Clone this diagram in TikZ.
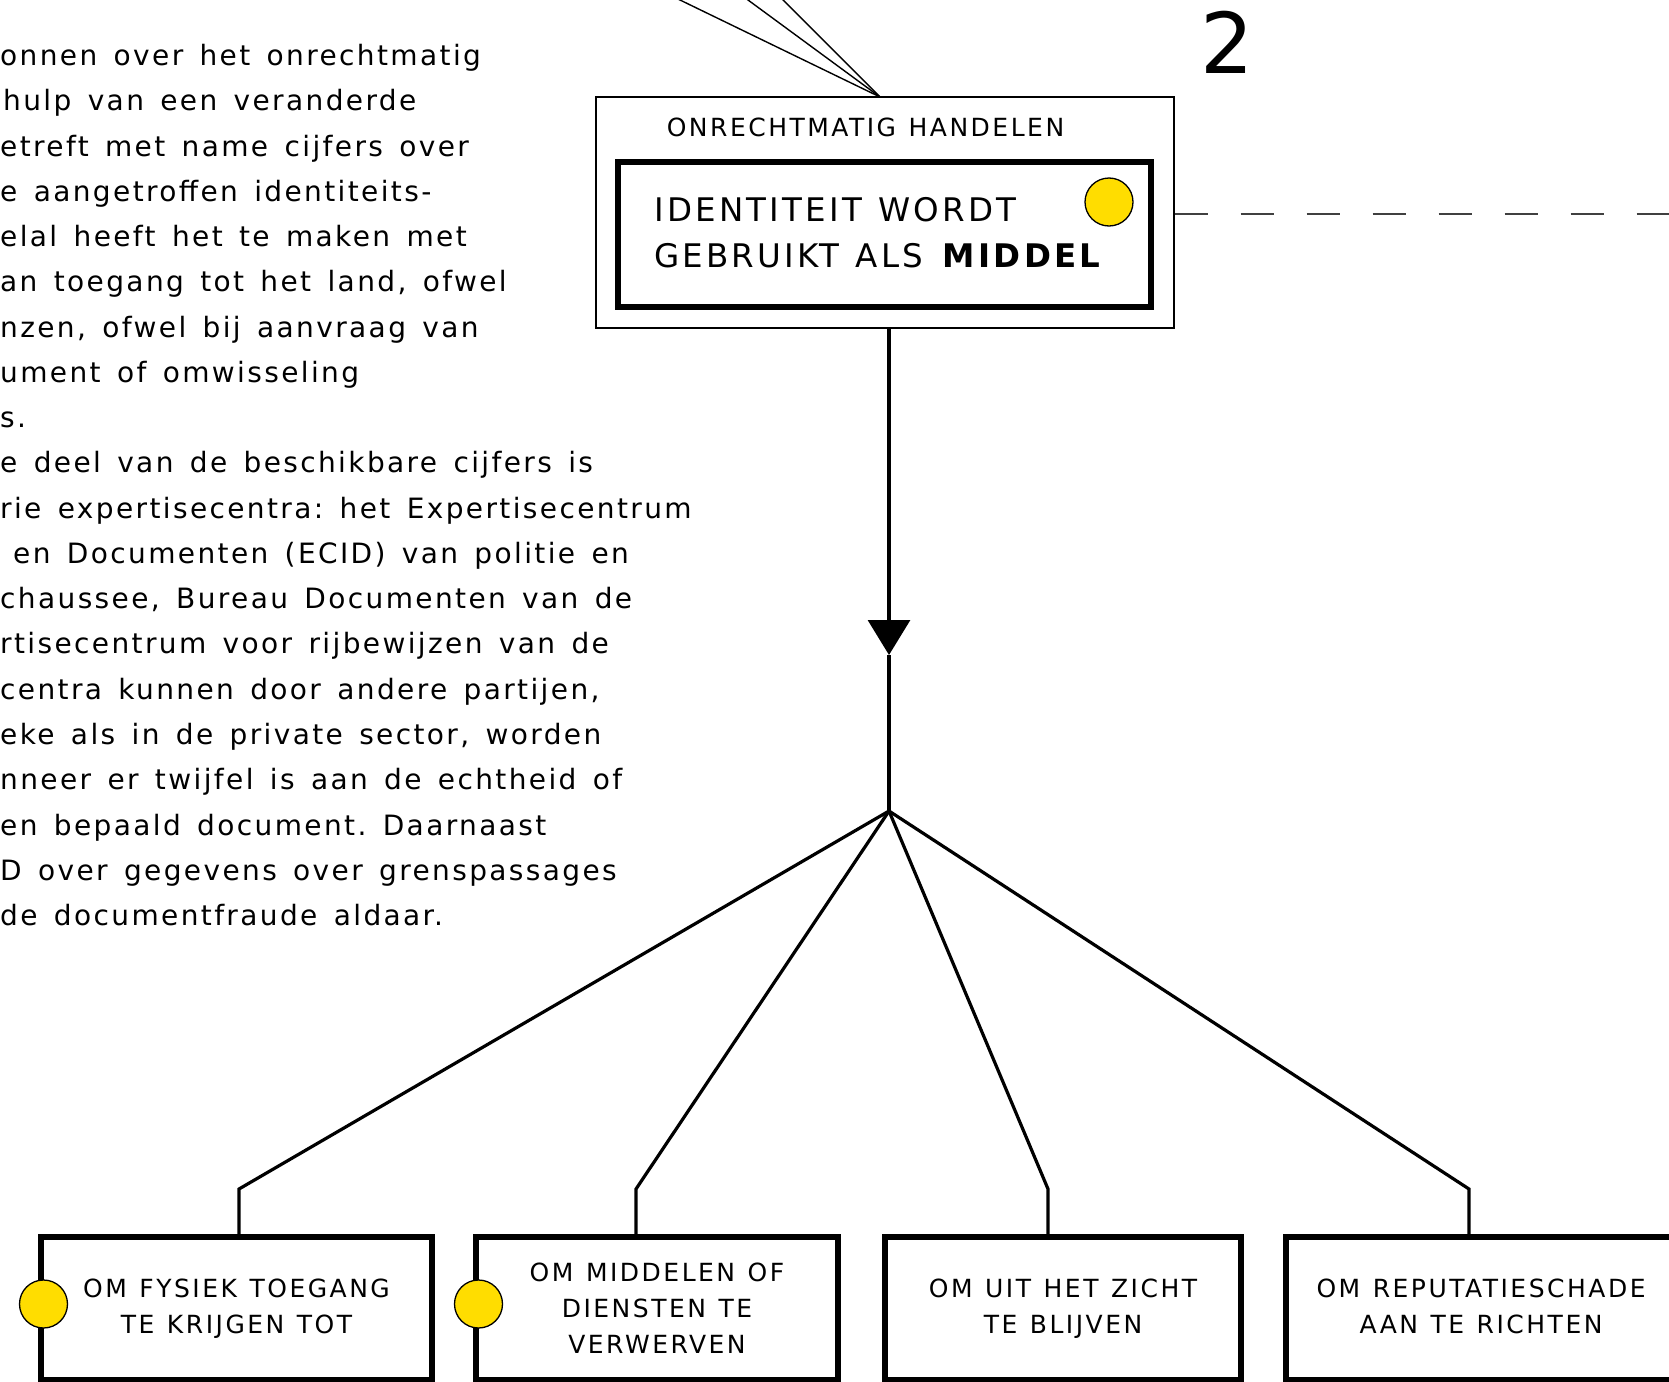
\documentclass[tikz,border=0pt]{standalone}
\usepackage{fontspec}
\setmainfont{DejaVu Sans}
\newfontfamily\tekstfont[LetterSpace=8.5,WordSpace=1.45]{DejaVu Sans}
\newfontfamily\kaderfont[LetterSpace=10,WordSpace=1.2]{DejaVu Sans}
\usetikzlibrary{arrows.meta,calc,positioning}
\definecolor{geel}{HTML}{FFDD00}
\frenchspacing

\begin{document}
\begin{tikzpicture}[x=1pt,y=-1pt,
kader/.style={draw,line width=6pt,minimum height=143pt,align=center,inner sep=0pt,
  font=\kaderfont\fontsize{25}{36}\selectfont},
bol/.style={circle,draw,line width=1.3pt,fill=geel,minimum size=48pt,inner sep=0pt},
tak/.style={line width=3.2pt},
dun/.style={line width=1.4pt}]
\useasboundingbox (0,0) rectangle (1669,1381);
\clip (0,0) rectangle (1669,1381);

% lopende tekst links (afgesneden)
\node[anchor=north west,inner sep=0pt,align=left,
  font=\tekstfont\fontsize{28}{45.27}\selectfont] (tekst) at (0,44) {%
onnen over het onrechtmatig\\
\hspace*{3pt}hulp van een veranderde\\
etreft met name cijfers over\\
e aangetroffen identiteits-\\
elal heeft het te maken met\\
an toegang tot het land, ofwel\\
nzen, ofwel bij aanvraag van\\
ument of omwisseling\\
s.\\
e deel van de beschikbare cijfers is\\
rie expertisecentra: het Expertisecentrum\\
\hspace*{13pt}en Documenten (ECID) van politie en\\
chaussee, Bureau Documenten van de\\
rtisecentrum voor rijbewijzen van de\\
centra kunnen door andere partijen,\\
eke als in de private sector, worden\\
nneer er twijfel is aan de echtheid of\\
en bepaald document. Daarnaast\\
D over gegevens over grenspassages\\
de documentfraude aldaar.};

% bovenste kader
\node[draw,dun,minimum width=578pt,minimum height=231pt] (handelen) at (885,212.5) {};
\node[anchor=base,inner sep=0pt,font=\kaderfont\fontsize{25}{30}\selectfont]
  (titel) at (865.5,136) {ONRECHTMATIG HANDELEN};
\node[draw,line width=6pt,minimum width=533pt,minimum height=145pt] (middel) at (884.5,234.5) {};
\node[anchor=north west,inner sep=0pt,align=left,font=\kaderfont\fontsize{32.5}{46}\selectfont]
  (middeltekst) at (654,197.5) {IDENTITEIT WORDT\\GEBRUIKT ALS \textbf{MIDDEL}};
\node[bol] (bol0) at (1109,202) {};
\node[anchor=base,inner sep=0pt,font=\fontsize{84}{90}\selectfont] (nummer) at (1227.5,74) {2};

% lijnen naar boven en stippellijn naar rechts
\coordinate (samen) at (880,97);
\coordinate (van1) at (680,0);
\coordinate (van2) at (748,0);
\coordinate (van3) at (783,0);
\coordinate (rand) at (1669,214);
\foreach \v in {van1,van2,van3}
  \draw[dun] (samen) -- ($(samen)!1.1!(\v)$);
\draw[black!75,line width=1.3pt,dash pattern=on 33pt off 33pt] (handelen.east |- rand) -- (rand);

% onderste kaders
\node[kader,minimum width=391pt] (doel1) at (236.5,1308.5) {OM FYSIEK TOEGANG\\TE KRIJGEN TOT};
\node[kader,minimum width=362pt] (doel2) at (657,1308.5) {OM MIDDELEN OF\\DIENSTEN TE\\VERWERVEN};
\node[kader,minimum width=356pt] (doel3) at (1063,1308.5) {OM UIT HET ZICHT\\TE BLIJVEN};
\node[kader,minimum width=390pt] (doel4) at (1481,1308.5) {OM REPUTATIESCHADE\\AAN TE RICHTEN\vphantom{J}};
\node[bol] (bol1) at ([xshift=5.5pt,yshift=4.5pt]doel1.west) {};
\node[bol] (bol2) at ([xshift=5.5pt,yshift=4.5pt]doel2.west) {};

% verbindingen
\coordinate (pijl) at (889,655);
\coordinate (knoop) at (889,811);
\coordinate (knik1) at (239,1189);
\coordinate (knik2) at (636,1189);
\coordinate (knik3) at (1048,1189);
\coordinate (knik4) at (1469,1189);
\draw[tak,-{Triangle[width=42pt,length=35pt]}] (handelen.south -| pijl) -- (pijl);
\draw[tak] (pijl) -- (knoop);
\foreach \i in {1,2,3,4}
  \draw[tak] (knoop) -- (knik\i) -- (knik\i |- doel\i.north);
\end{tikzpicture}
\end{document}
